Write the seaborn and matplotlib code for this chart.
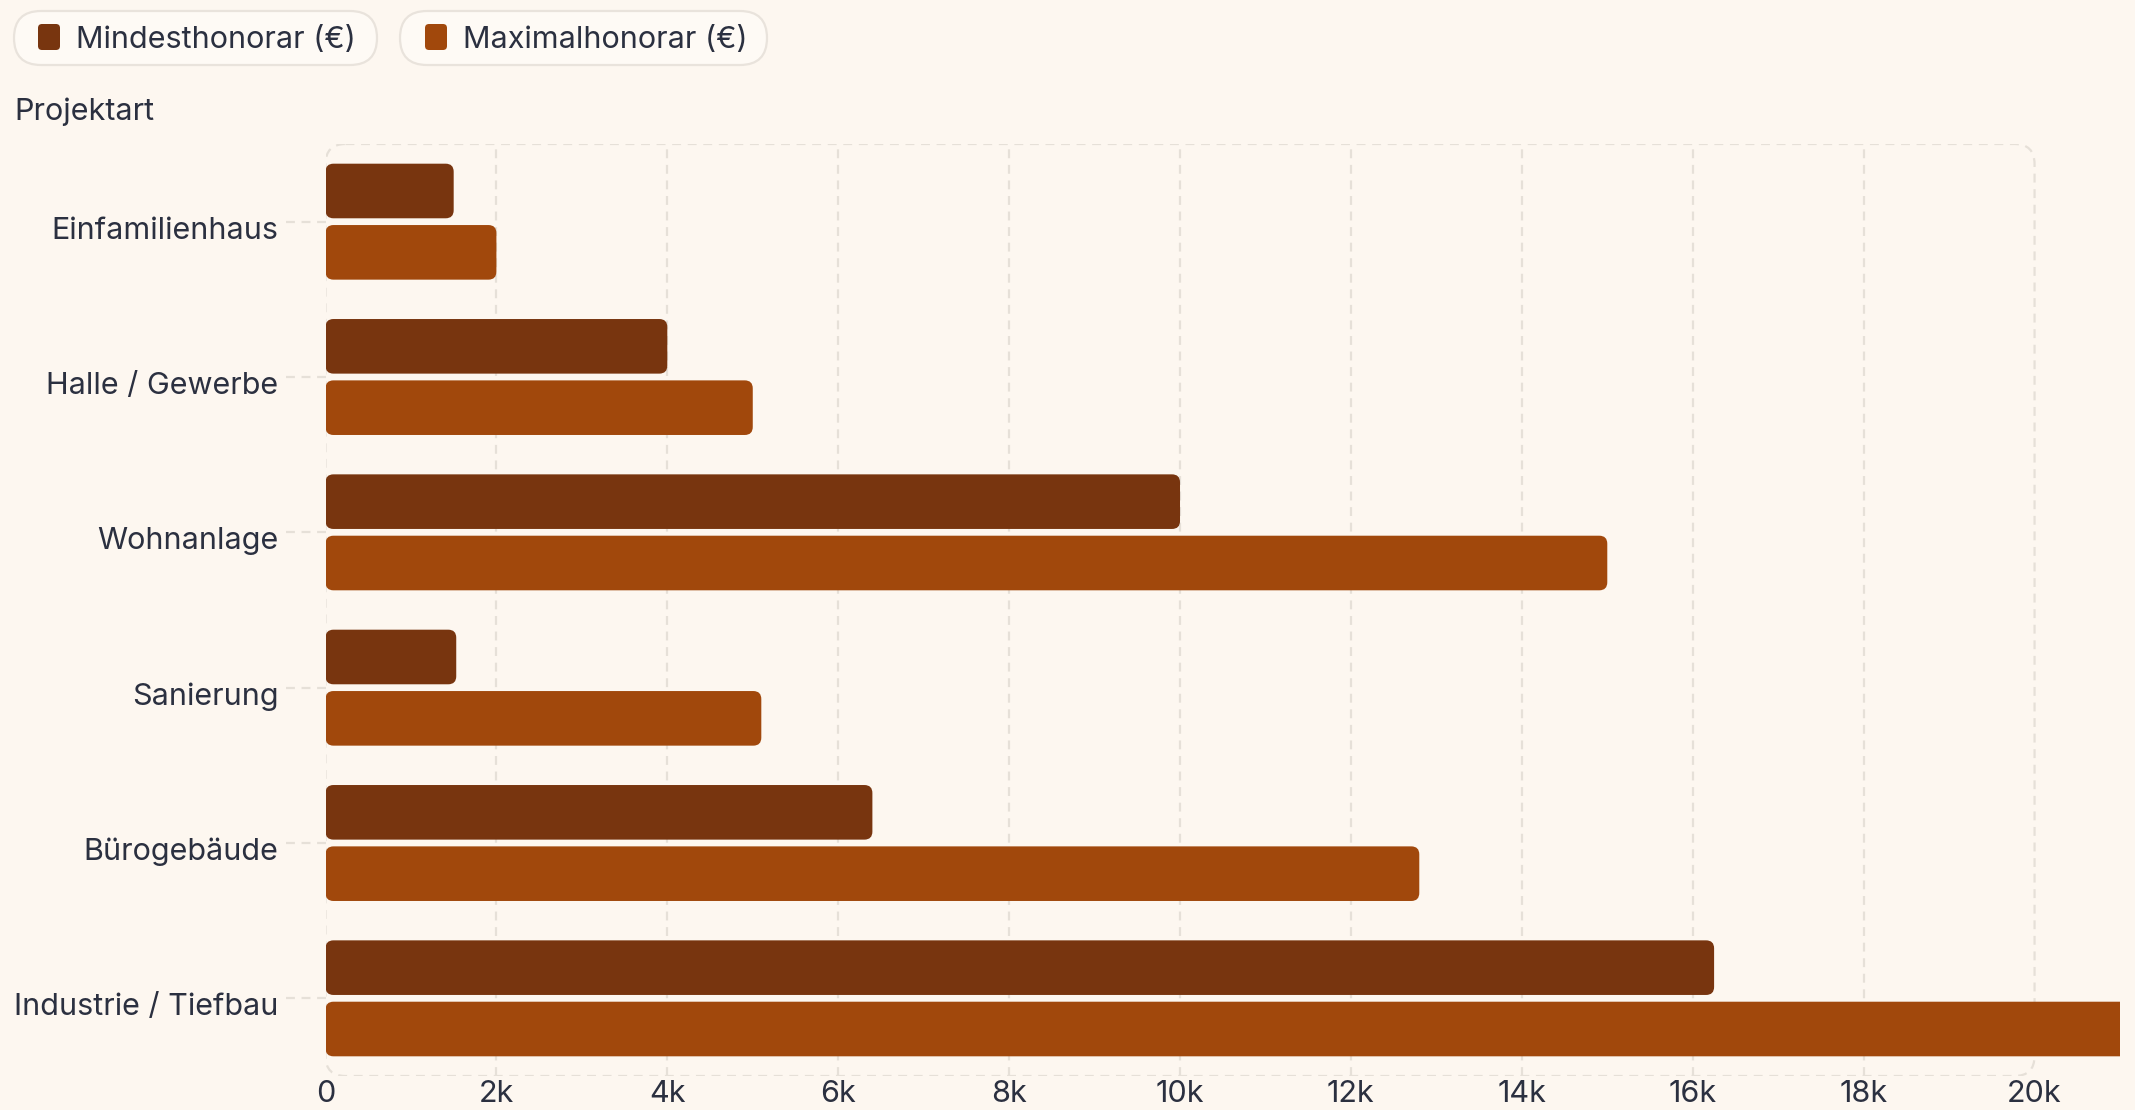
import matplotlib
matplotlib.use("Agg")
import matplotlib.pyplot as plt
from matplotlib.patches import FancyBboxPatch
from matplotlib.transforms import IdentityTransform, blended_transform_factory, ScaledTranslation
import seaborn as sns
import pandas as pd

# ---- data ----
categories = ["Einfamilienhaus", "Halle / Gewerbe", "Wohnanlage", "Sanierung",
              "Bürogebäude", "Industrie / Tiefbau"]
min_fee = [1500, 4000, 10000, 1530, 6400, 16250]
max_fee = [2000, 5000, 15000, 5100, 12800, 25000]
series_names = ["Mindesthonorar (€)", "Maximalhonorar (€)"]
x_ticks = [0, 2000, 4000, 6000, 8000, 10000, 12000, 14000, 16000, 18000, 20000]
x_tick_labels = ["0", "2k", "4k", "6k", "8k", "10k", "12k", "14k", "16k", "18k", "20k"]
y_title = "Projektart"

# ---- style ----
BG = "#fdf7f0"
DARK = "#78350f"
LIGHT = "#a1480c"
TEXT = "#2b3040"
GRID = "#e6e0d8"
FONT = ["Inter", "DejaVu Sans"]
FS = 22

sns.set_theme(style="white")
plt.rcParams["font.family"] = FONT

W, H = 2135, 1110
fig = plt.figure(figsize=(W / 100, H / 100), dpi=100)
fig.patch.set_facecolor(BG)

ax_l, ax_r, ax_t, ax_b = 325.5, 2120, 144, 1076
ax = fig.add_axes([ax_l / W, 1 - ax_b / H, (ax_r - ax_l) / W, (ax_b - ax_t) / H])
ax.set_facecolor(BG)

df = pd.DataFrame({
    "Projektart": categories * 2,
    "Wert": min_fee + max_fee,
    "Serie": [series_names[0]] * len(categories) + [series_names[1]] * len(categories),
})

sns.barplot(data=df, y="Projektart", x="Wert", hue="Serie", orient="h",
            palette=[DARK, LIGHT], width=0.79, gap=0.11, saturation=1,
            legend=False, ax=ax, zorder=3)

xmax = 21000
ax.set_xlim(0, xmax)
ax.set_ylim(len(categories) - 0.5, -0.5)

# pixel-to-data scales for round corners
xpp = xmax / (ax_r - ax_l)
ypp = len(categories) / (ax_b - ax_t)
radius_px = 8
bars = list(ax.patches)
for p in bars:
    x0, y0, w, h = p.get_x(), p.get_y(), p.get_width(), p.get_height()
    fc = p.get_facecolor()
    p.remove()
    fb = FancyBboxPatch((x0, y0), w, h,
                        boxstyle=f"round,pad=0,rounding_size={radius_px * xpp}",
                        mutation_aspect=ypp / xpp, facecolor=fc, edgecolor="none",
                        zorder=3)
    ax.add_patch(fb)

# grid and frame
for s in ax.spines.values():
    s.set_visible(False)
for xv in x_ticks[1:-1]:
    ax.axvline(xv, color=GRID, lw=1.6, ls=(0, (4, 3)), zorder=1)
frame = FancyBboxPatch((0, -0.5), x_ticks[-1], len(categories),
                       boxstyle=f"round,pad=0,rounding_size={20 * xpp}",
                       mutation_aspect=ypp / xpp, facecolor="none",
                       edgecolor=GRID, lw=1.6, ls=(0, (4, 3)), zorder=1)
ax.add_patch(frame)

# y tick dashes
trans = blended_transform_factory(ax.transAxes, ax.transData)
for i in range(len(categories)):
    ax.plot([-0.022, 0], [i, i], transform=trans, color=GRID, lw=1.6,
            ls=(0, (4, 3)), clip_on=False, zorder=1)

ax.set_xticks(x_ticks)
ax.set_xticklabels(x_tick_labels)
ax.tick_params(axis="x", length=0, pad=3, labelsize=FS, labelcolor=TEXT)
ax.tick_params(axis="y", length=0, pad=34, labelsize=FS, labelcolor=TEXT)
ax.set_xlabel("")
ax.set_ylabel("")
shift = ScaledTranslation(0, -6 / 100, fig.dpi_scale_trans)
for lab in ax.get_yticklabels():
    lab.set_transform(lab.get_transform() + shift)

# y title
fig.text(14 / W, 1 - 112 / H, y_title, fontsize=FS, color=TEXT, ha="left", va="center")

# legend pills
def pill(x0, x1, y0, y1, sq_x, txt_x, color, label):
    patch = FancyBboxPatch((x0, H - y1), x1 - x0, y1 - y0,
                           boxstyle="round,pad=0,rounding_size=27",
                           facecolor="#fefaf5", edgecolor="#e9e3dc", lw=1.6,
                           transform=IdentityTransform())
    fig.patches.append(patch)
    sq = FancyBboxPatch((sq_x, H - 50), 22, 26,
                        boxstyle="round,pad=0,rounding_size=4",
                        facecolor=color, edgecolor="none",
                        transform=IdentityTransform())
    fig.patches.append(sq)
    fig.text(txt_x / W, 1 - 40 / H, label, fontsize=FS, color=TEXT,
             ha="left", va="center")

pill(14, 377, 11, 65, 38, 76, DARK, series_names[0])
pill(400, 767, 11, 65, 425, 463, LIGHT, series_names[1])

fig.savefig("out.png", dpi=100, facecolor=BG)
